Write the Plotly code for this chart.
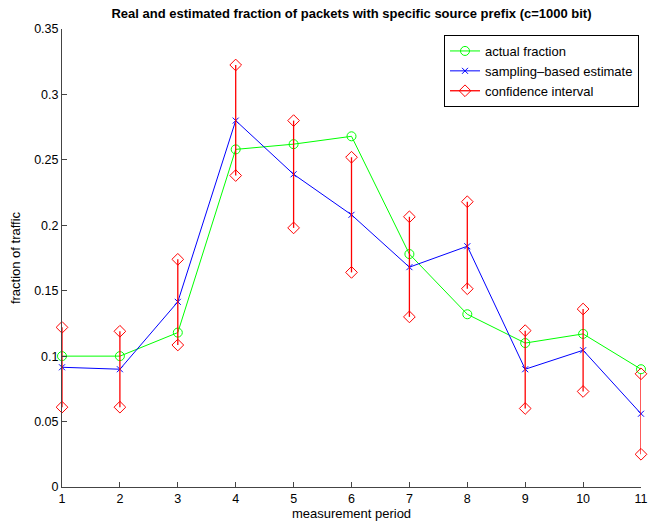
import plotly.graph_objects as go

periods = [1, 2, 3, 4, 5, 6, 7, 8, 9, 10, 11]
actual_fraction = [0.100, 0.100, 0.118, 0.258, 0.262, 0.268, 0.178, 0.132, 0.110, 0.117, 0.090]
sampling_estimate = [0.0915, 0.090, 0.1415, 0.280, 0.239, 0.208, 0.168, 0.184, 0.090, 0.1045, 0.056]
ci_upper = [0.122, 0.119, 0.174, 0.3225, 0.280, 0.252, 0.2065, 0.218, 0.1195, 0.136, 0.0865]
ci_lower = [0.061, 0.061, 0.1085, 0.238, 0.198, 0.164, 0.130, 0.1515, 0.060, 0.073, 0.025]

y_ticks = [0, 0.05, 0.1, 0.15, 0.2, 0.25, 0.3, 0.35]
y_ticklabels = ["0", "0.05", "0.1", "0.15", "0.2", "0.25", "0.3", "0.35"]

# build CI segments
ci_x, ci_y = [], []
for p, lo, hi in zip(periods, ci_lower, ci_upper):
    ci_x += [p, p, None]
    ci_y += [hi, lo, None]

font = "Liberation Sans, Arial, Helvetica, sans-serif"

fig = go.Figure()
fig.add_trace(go.Scatter(
    x=periods, y=actual_fraction, mode="lines+markers", name="actual fraction",
    line=dict(color="#00ff00", width=1), cliponaxis=False,
    marker=dict(symbol="circle-open", size=9, color="#00ff00", line=dict(width=1))))
fig.add_trace(go.Scatter(
    x=periods, y=sampling_estimate, mode="lines+markers", name="sampling\u2013based estimate",
    line=dict(color="#0000ff", width=1), cliponaxis=False,
    marker=dict(symbol="x-thin-open", size=6, color="#0000ff", line=dict(width=1, color="#0000ff"))))
fig.add_trace(go.Scatter(
    x=ci_x, y=ci_y, mode="lines+markers", name="confidence interval",
    line=dict(color="#ff0000", width=1.3), cliponaxis=False,
    marker=dict(symbol="diamond-open", size=9, color="#ff0000", line=dict(width=1)),
    connectgaps=False))

fig.update_layout(
    width=659, height=523,
    margin=dict(l=62, r=18, t=29, b=36, autoexpand=False),
    paper_bgcolor="white", plot_bgcolor="white",
    font=dict(family=font, size=12.5, color="black"),
    title=dict(text="<b>Real and estimated fraction of packets with specific source prefix (c=1000 bit)</b>",
               x=(62 + 641) / 2 / 659, xanchor="center", y=1 - 13 / 523, yanchor="middle",
               font=dict(size=13, family=font)),
    showlegend=True,
    legend=dict(x=(444 - 62) / 579, y=(487 - 35) / 458, xanchor="left", yanchor="top",
                bordercolor="black", borderwidth=1, bgcolor="white",
                font=dict(size=13, family=font), tracegroupgap=0),
)
fig.update_xaxes(
    range=[1, 11], tickvals=periods, ticktext=[str(p) for p in periods],
    showgrid=False, zeroline=False, showline=True, linecolor="#444", linewidth=1,
    ticks="inside", ticklen=5, tickcolor="#444", mirror=False, automargin=False,
    title=dict(text="measurement period", font=dict(size=13, family=font), standoff=3))
fig.update_yaxes(
    range=[0, 0.35], tickvals=y_ticks, ticktext=y_ticklabels,
    showgrid=False, zeroline=False, showline=True, linecolor="#444", linewidth=1,
    ticks="inside", ticklen=5, tickcolor="#444", mirror=False, automargin=False,
    title=dict(text="fraction of traffic", font=dict(size=13, family=font), standoff=10))

fig.write_html("out.html", config={"displayModeBar": False},
               post_script="document.body.style.margin='0';document.body.style.overflow='hidden';")
